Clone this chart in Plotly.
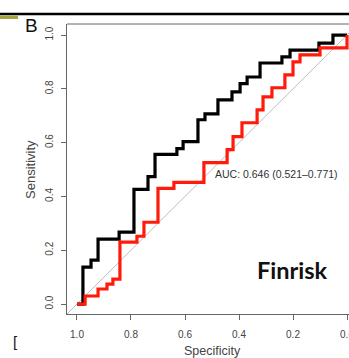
import plotly.graph_objects as go

# ROC curve vertices (specificity, sensitivity), step curves
black_spec = [1.0, 0.978, 0.948, 0.922, 0.844, 0.789, 0.737, 0.711, 0.630, 0.607, 0.552,
              0.526, 0.478, 0.426, 0.396, 0.370, 0.322, 0.241, 0.211, 0.104, 0.052, 0.0]
black_sens = [0.0, 0.137, 0.163, 0.241, 0.267, 0.426, 0.474, 0.556, 0.578, 0.604, 0.685,
              0.707, 0.759, 0.789, 0.819, 0.844, 0.896, 0.919, 0.944, 0.970, 1.0, 1.0]

red_spec = [1.0, 0.970, 0.922, 0.889, 0.867, 0.841, 0.778, 0.752, 0.700, 0.641, 0.530,
            0.444, 0.422, 0.389, 0.333, 0.311, 0.278, 0.230, 0.200, 0.174, 0.100, 0.0]
red_sens = [0.0, 0.030, 0.056, 0.074, 0.093, 0.230, 0.252, 0.304, 0.430, 0.452, 0.526,
            0.574, 0.622, 0.674, 0.722, 0.770, 0.804, 0.852, 0.900, 0.926, 0.952, 1.0]

diag_spec = [1.1, -0.1]
diag_sens = [-0.1, 1.1]

tick_vals = [0.0, 0.2, 0.4, 0.6, 0.8, 1.0]
tick_text = ["0.0", "0.2", "0.4", "0.6", "0.8", "1.0"]

auc_label = "AUC: 0.646 (0.521\u20130.771)"
panel_label = "B"
cohort_label = "Finrisk"
next_label = "["

W, H = 349, 358
L, R, T, B = 67, 0, 24, 44
PW, PH = W - L - R, H - T - B


def px(x):
    return (x - L) / PW


def py(y):
    return (H - B - y) / PH


fig = go.Figure()
fig.add_trace(go.Scatter(x=diag_spec, y=diag_sens, mode="lines",
                         line=dict(color="#bdbdbd", width=1), hoverinfo="skip"))
fig.add_trace(go.Scatter(x=black_spec, y=black_sens, mode="lines",
                         line=dict(color="#000000", width=3.2, shape="hv")))
fig.add_trace(go.Scatter(x=red_spec, y=red_sens, mode="lines",
                         line=dict(color="#ff1a0a", width=3.2, shape="hv")))

axis_common = dict(
    tickvals=tick_vals, ticktext=tick_text, ticks="outside", ticklen=5,
    tickcolor="#666666", tickwidth=1, showline=True, linecolor="#666666",
    linewidth=1, showgrid=False, zeroline=False, automargin=False,
    ticklabeloverflow="allow",
    tickfont=dict(family="Liberation Sans", size=10, color="#444444"),
)

fig.update_layout(
    width=W, height=H,
    margin=dict(l=L, r=R, t=T, b=B, pad=0, autoexpand=False),
    paper_bgcolor="white", plot_bgcolor="white",
    showlegend=False,
    xaxis=dict(range=[1.037, -0.0074], ticklabelstandoff=6, **axis_common),
    yaxis=dict(range=[-0.037, 1.041], tickangle=-90, ticklabelstandoff=4, **axis_common),
)

shapes = [
    dict(type="line", xref="paper", yref="paper", x0=px(0), x1=px(349), y0=py(14), y1=py(14),
         line=dict(color="black", width=2.5)),
    dict(type="rect", xref="paper", yref="paper", x0=px(0), x1=px(18), y0=py(15.5), y1=py(19),
         fillcolor="#a5a440", line=dict(width=0)),
    dict(type="line", xref="paper", yref="paper", x0=0, x1=1, y0=1, y1=1,
         line=dict(color="#666666", width=1)),
]
fig.update_layout(shapes=shapes)

annos = [
    dict(text="Sensitivity", x=px(30), y=py(170), textangle=-90,
         font=dict(family="Liberation Sans", size=13, color="#444444")),
    dict(text="Specificity", x=px(212), y=py(351),
         font=dict(family="Liberation Sans", size=12.5, color="#444444")),
    dict(text=auc_label, x=px(213), y=py(174), xanchor="left",
         font=dict(family="Liberation Sans", size=10.5, color="#333333")),
    dict(text=cohort_label, x=px(292), y=py(270),
         font=dict(family="Lato", size=23.5, color="#111111", weight="bold")),
    dict(text=panel_label, x=px(31), y=py(25),
         font=dict(family="Liberation Sans", size=19, color="#111111")),
    dict(text=next_label, x=px(15), y=py(341),
         font=dict(family="Liberation Sans", size=15, color="#111111")),
]
for a in annos:
    a.update(xref="paper", yref="paper", showarrow=False)
    a.setdefault("xanchor", "center")
    a["yanchor"] = "middle"
fig.update_layout(annotations=annos)

fig.write_html("out.html", config={"displayModeBar": False},
               post_script="document.body.style.margin='0';document.body.style.overflow='hidden';")
